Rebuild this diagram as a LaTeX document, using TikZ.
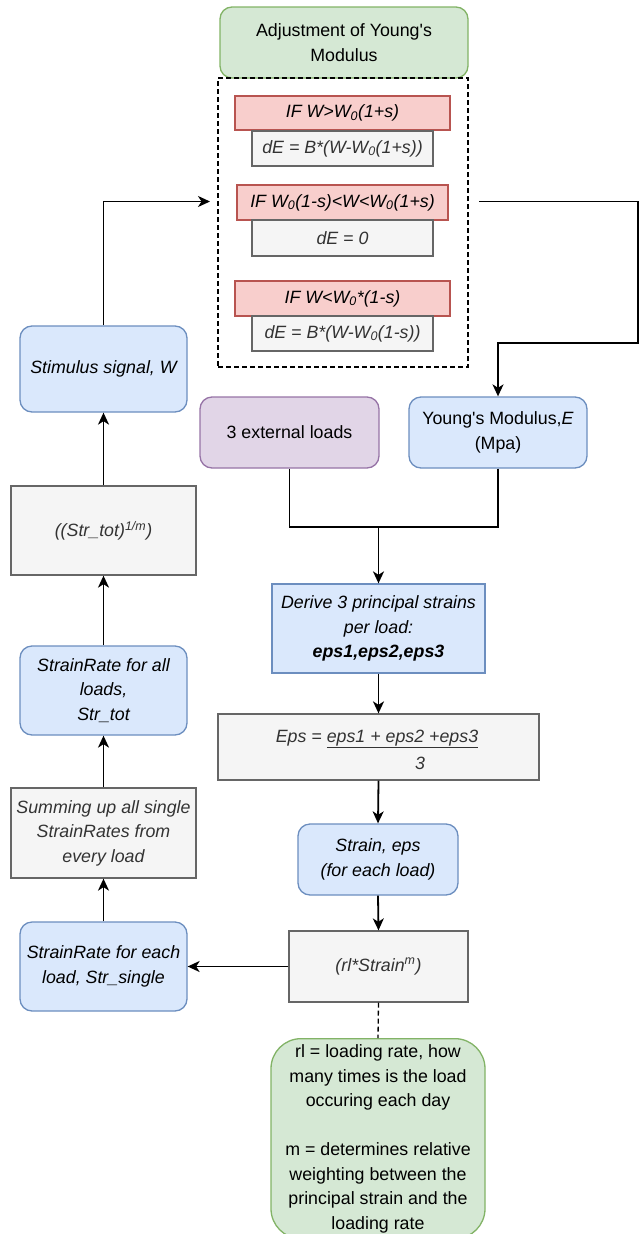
\documentclass[tikz,border=0pt]{standalone}
\usepackage{fontspec}
\setmainfont{Liberation Sans}[Ligatures=TeXOff]
\usetikzlibrary{arrows.meta}
\definecolor{bluefill}{HTML}{DAE8FC}\definecolor{bluedraw}{HTML}{6C8EBF}
\definecolor{greenfill}{HTML}{D5E8D4}\definecolor{greendraw}{HTML}{82B366}
\definecolor{redfill}{HTML}{F8CECC}\definecolor{reddraw}{HTML}{B85450}
\definecolor{grayfill}{HTML}{F5F5F5}\definecolor{graydraw}{HTML}{666666}
\definecolor{graytext}{HTML}{333333}
\definecolor{purplefill}{HTML}{E1D5E7}\definecolor{purpledraw}{HTML}{9673A6}
\newcommand\diafont{\fontsize{17.8}{24.5}\selectfont}
\tikzset{
  box/.style={draw, line width=1.3pt, align=center, font=\diafont, inner sep=2pt},
  bluebox/.style={box, fill=bluefill, draw=bluedraw, rounded corners=12pt},
  bluerect/.style={box, fill=bluefill, draw=bluedraw},
  greenbox/.style={box, fill=greenfill, draw=greendraw, rounded corners=12pt},
  redbox/.style={box, fill=redfill, draw=reddraw, font=\diafont\itshape},
  graybox/.style={box, fill=grayfill, draw=graydraw, text=graytext, font=\diafont\itshape},
  purplebox/.style={box, fill=purplefill, draw=purpledraw, rounded corners=12pt},
  frame/.style={draw, line width=1.3pt, dash pattern=on 5pt off 3pt},
  wire/.style={line width=1.8pt},
  arr/.style={wire, -{Stealth[length=12pt, width=11pt, inset=3.5pt]}},
  sz/.style 2 args={minimum width=#1pt, minimum height=#2pt},
}
\begin{document}
\begin{tikzpicture}[x=1pt, y=-1pt]
\clip (0,0) rectangle (639,1234);

% adjustment block
\node[greenbox, sz={248}{71}] (adj) at (344,42.5) {Adjustment of Young's\\Modulus};
\node[frame, sz={250}{289}] (cont) at (343,222.5) {};
\node[redbox, sz={215}{34}] (if1) at (342.5,113) {IF W>W\textsubscript{0}(1+s)};
\node[graybox, sz={181}{35}] (g1) at (342.5,148.5) {dE = B*(W-W\textsubscript{0}(1+s))};
\node[redbox, sz={211}{35}] (if2) at (342.5,202.5) {IF W\textsubscript{0}(1-s)<W<W\textsubscript{0}(1+s)};
\node[graybox, sz={181}{36}] (g2) at (342.5,238) {dE = 0};
\node[redbox, sz={215}{35}] (if3) at (342.5,298.5) {IF W<W\textsubscript{0}*(1-s)};
\node[graybox, sz={181}{35}] (g3) at (342.5,333.5) {dE = B*(W-W\textsubscript{0}(1-s))};

% right column
\node[purplebox, sz={179}{71}] (ext) at (289.5,432.5) {3 external loads};
\node[bluebox, sz={178}{71}] (ym) at (498,432.5) {Young's Modulus,\textit{E}\\(Mpa)};
\node[bluerect, sz={213}{89}, font=\diafont\itshape] (derive) at (378.5,628.5)
  {Derive 3 principal strains\\per load:\\\textbf{eps1,eps2,eps3}};
\node[graybox, sz={321}{66}] (eps) at (378.5,747) {};
\node[text=graytext, font=\diafont\itshape, inner sep=0pt] (epsnum) at (377,739)
  {Eps = \underline{eps1 + eps2 +eps3}};
\node[text=graytext, font=\diafont\itshape, inner sep=0pt] (epsden) at (420,763) {3};
\node[bluebox, sz={160}{71}, font=\diafont\itshape] (strain) at (378,859.5) {Strain, eps\\(for each load)};
\node[graybox, sz={179}{71}] (rl) at (378.5,966.5) {(rl*Strain\textsuperscript{m})};
\node[greenbox, sz={214}{200}, rounded corners=30pt, anchor=north] (note) at (378,1038)
  {rl = loading rate, how\\many times is the load\\occuring each day\\[24.5pt]m = determines relative\\weighting between the\\principal strain and the\\loading rate};

% left column
\node[bluebox, sz={167}{86}, font=\diafont\itshape] (stim) at (103.5,369) {Stimulus signal, W};
\node[graybox, sz={185}{89}] (pow) at (103.5,530.5) {((Str\_tot)\textsuperscript{1/m})};
\node[bluebox, sz={167}{89}, font=\diafont\itshape] (tot) at (103.5,690.5) {StrainRate for all\\loads,\\Str\_tot};
\node[graybox, sz={185}{90}] (sum) at (103.5,833) {Summing up all single\\StrainRates from\\every load};
\node[bluebox, sz={167}{89}, font=\diafont\itshape] (single) at (103.5,966.5) {StrainRate for each\\load, Str\_single};

% connector end points
\coordinate (inpt) at (210,201.5);
\coordinate (outpt) at (479,201.5);
\coordinate (outR) at (638,343);
\coordinate (junc) at (378.5,527);

% connectors
\draw[arr] (stim.north) |- (inpt);
\draw[arr] (outpt) -| (outR) -| (ym.north);
\draw[wire] (ext.south) |- (junc);
\draw[wire] (ym.south) |- (junc);
\draw[arr] (junc) -- (derive.north);
\draw[arr] (derive.south) -- (eps.north);
\draw[arr] (eps.south) -- (strain.north);
\draw[arr] (strain.south) -- (rl.north);
\draw[arr] (rl.west) -- (single.east);
\draw[arr] (single.north) -- (sum.south);
\draw[arr] (sum.north) -- (tot.south);
\draw[arr] (tot.north) -- (pow.south);
\draw[arr] (pow.north) -- (stim.south);
\draw[line width=1.3pt, dash pattern=on 5pt off 3pt] (rl.south) -- (note.north);
\end{tikzpicture}
\end{document}
